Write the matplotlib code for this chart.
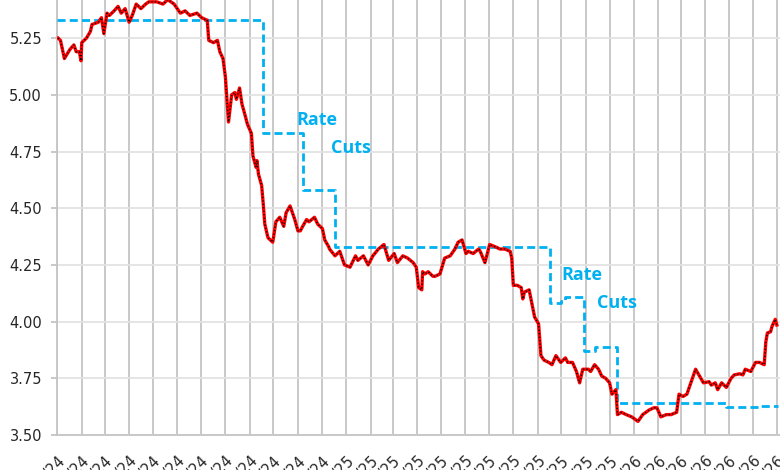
import matplotlib
matplotlib.use("Agg")
import matplotlib.pyplot as plt
import pandas as pd

# ---------------- data ----------------
yield_dates = [
    "2024-01-02", "2024-01-05", "2024-01-10", "2024-01-17", "2024-01-22", "2024-01-25", "2024-01-29",
    "2024-01-31", "2024-02-01", "2024-02-07", "2024-02-12", "2024-02-14", "2024-02-22", "2024-02-26",
    "2024-02-29", "2024-03-04", "2024-03-07", "2024-03-13", "2024-03-18", "2024-03-22", "2024-03-27",
    "2024-04-01", "2024-04-05", "2024-04-10", "2024-04-16", "2024-04-22", "2024-04-26", "2024-05-03",
    "2024-05-06", "2024-05-14", "2024-05-20", "2024-05-28", "2024-06-05", "2024-06-11", "2024-06-17",
    "2024-06-26", "2024-07-02", "2024-07-08", "2024-07-09", "2024-07-11", "2024-07-17", "2024-07-22",
    "2024-07-25", "2024-07-29", "2024-08-01", "2024-08-05", "2024-08-06", "2024-08-09", "2024-08-13",
    "2024-08-15", "2024-08-19", "2024-08-22", "2024-08-26", "2024-08-29", "2024-09-03", "2024-09-05",
    "2024-09-09", "2024-09-10", "2024-09-12", "2024-09-16", "2024-09-18", "2024-09-20", "2024-09-24",
    "2024-09-30", "2024-10-01", "2024-10-04", "2024-10-09", "2024-10-14", "2024-10-17", "2024-10-22",
    "2024-10-28", "2024-11-01", "2024-11-04", "2024-11-07", "2024-11-12", "2024-11-15", "2024-11-22",
    "2024-11-26", "2024-12-02", "2024-12-05", "2024-12-10", "2024-12-11", "2024-12-18", "2024-12-24",
    "2024-12-30", "2025-01-06", "2025-01-13", "2025-01-16", "2025-01-23", "2025-01-29", "2025-02-04",
    "2025-02-11", "2025-02-18", "2025-02-24", "2025-03-03", "2025-03-07", "2025-03-14", "2025-03-20",
    "2025-03-27", "2025-03-31", "2025-04-03", "2025-04-07", "2025-04-08", "2025-04-11", "2025-04-15",
    "2025-04-21", "2025-04-24", "2025-04-30", "2025-05-06", "2025-05-13", "2025-05-19", "2025-05-23",
    "2025-05-28", "2025-06-02", "2025-06-05", "2025-06-11", "2025-06-18", "2025-06-20", "2025-06-26",
    "2025-07-02", "2025-07-09", "2025-07-15", "2025-07-21", "2025-07-28", "2025-07-30", "2025-08-01",
    "2025-08-06", "2025-08-11", "2025-08-13", "2025-08-15", "2025-08-21", "2025-08-25", "2025-08-28",
    "2025-09-02", "2025-09-05", "2025-09-09", "2025-09-15", "2025-09-19", "2025-09-24", "2025-09-30",
    "2025-10-06", "2025-10-09", "2025-10-15", "2025-10-20", "2025-10-24", "2025-10-28", "2025-11-04",
    "2025-11-07", "2025-11-12", "2025-11-17", "2025-11-21", "2025-11-26", "2025-12-01", "2025-12-04",
    "2025-12-09", "2025-12-11", "2025-12-16", "2025-12-22", "2025-12-29", "2026-01-06", "2026-01-12",
    "2026-01-20", "2026-01-26", "2026-01-30", "2026-02-04", "2026-02-11", "2026-02-17", "2026-02-24",
    "2026-02-27", "2026-03-04", "2026-03-09", "2026-03-12", "2026-03-16", "2026-03-20", "2026-03-25",
    "2026-03-30", "2026-04-06", "2026-04-09", "2026-04-14", "2026-04-17", "2026-04-22", "2026-04-28",
    "2026-05-04", "2026-05-08", "2026-05-15", "2026-05-19", "2026-05-22", "2026-05-29", "2026-06-04",
    "2026-06-09", "2026-06-15", "2026-06-17", "2026-06-19", "2026-06-23", "2026-06-25", "2026-06-29",
    "2026-07-01",
]
yield_values = [
    5.25, 5.24, 5.16, 5.20, 5.22, 5.19, 5.19,
    5.15, 5.23, 5.25, 5.28, 5.31, 5.32, 5.34,
    5.27, 5.36, 5.35, 5.37, 5.39, 5.36, 5.38,
    5.32, 5.35, 5.40, 5.38, 5.40, 5.41, 5.41,
    5.41, 5.40, 5.42, 5.40, 5.36, 5.37, 5.35,
    5.36, 5.34, 5.33, 5.33, 5.24, 5.23, 5.24,
    5.19, 5.16, 5.08, 4.88, 4.91, 5.00, 5.01,
    4.98, 5.03, 4.96, 4.91, 4.87, 4.83, 4.73,
    4.68, 4.71, 4.65, 4.60, 4.52, 4.43, 4.37,
    4.35, 4.37, 4.44, 4.46, 4.42, 4.48, 4.51,
    4.45, 4.40, 4.40, 4.42, 4.45, 4.44, 4.46,
    4.43, 4.41, 4.36, 4.33, 4.32, 4.29, 4.31,
    4.25, 4.24, 4.29, 4.27, 4.29, 4.25, 4.29,
    4.32, 4.34, 4.27, 4.30, 4.26, 4.29, 4.28,
    4.26, 4.24, 4.15, 4.14, 4.22, 4.21, 4.22,
    4.20, 4.20, 4.21, 4.28, 4.29, 4.32, 4.35,
    4.36, 4.30, 4.31, 4.30, 4.32, 4.31, 4.26,
    4.34, 4.33, 4.32, 4.32, 4.31, 4.28, 4.16,
    4.16, 4.15, 4.10, 4.13, 4.14, 4.07, 4.02,
    3.99, 3.85, 3.83, 3.82, 3.81, 3.85, 3.82,
    3.84, 3.82, 3.82, 3.78, 3.73, 3.79, 3.79,
    3.78, 3.81, 3.79, 3.76, 3.75, 3.73, 3.68,
    3.70, 3.59, 3.60, 3.59, 3.58, 3.56, 3.59,
    3.61, 3.62, 3.62, 3.58, 3.59, 3.59, 3.60,
    3.68, 3.67, 3.68, 3.71, 3.75, 3.79, 3.76,
    3.73, 3.735, 3.72, 3.73, 3.70, 3.73, 3.71,
    3.75, 3.765, 3.77, 3.765, 3.79, 3.78, 3.82,
    3.82, 3.81, 3.91, 3.95, 3.955, 3.98, 4.01,
    3.985,
]

policy_dates = [
    "2024-01-01", "2024-09-18", "2024-11-07", "2024-12-18", "2025-09-17", "2025-10-01",
    "2025-10-06", "2025-10-29", "2025-11-12", "2025-12-10", "2026-04-28", "2026-06-10",
    "2026-07-02",
]
policy_values = [
    5.33, 4.83, 4.58, 4.33, 4.08, 4.09,
    4.11, 3.87, 3.89, 3.64, 3.625, 3.63,
    3.63,
]

ytick_values = [3.50, 3.75, 4.00, 4.25, 4.50, 4.75, 5.00, 5.25]
annotation_words = ["Rate", "Cuts"]

# ---------------- style ----------------
RED = "#FF0000"
BLUE = "#00B0F0"
VGRID = "#C4C4C4"
HGRID = "#E3E3E3"
TXT = "#262626"

fig = plt.figure(figsize=(7.8, 4.7), dpi=100)
ax = fig.add_axes([57.3 / 780, 35 / 470, 1 - 57.3 / 780, 1 - 35 / 470])

yd = pd.to_datetime(yield_dates)
pd_dates = pd.to_datetime(policy_dates)

ax.plot(pd_dates, policy_values, color=BLUE, lw=2.0, drawstyle="steps-post",
        dashes=(2.9, 1.5), zorder=3)
ax.plot(yd, yield_values, color=RED, lw=2.4, zorder=4, solid_joinstyle="round")
ax.plot(yd, yield_values, color="black", lw=1.0, linestyle=(0, (0.9, 1.6)), zorder=5)

x0 = pd.Timestamp("2024-01-01")
x1 = x0 + pd.Timedelta(days=916)
ax.set_xlim(x0, x1)
ax.set_ylim(3.50, 5.418)

ax.set_yticks(ytick_values)
ax.set_yticklabels([f"{v:.2f}" for v in ytick_values])

months = pd.date_range("2024-01-01", "2026-07-01", freq="MS")
ax.set_xticks(months)
ax.set_xticklabels([f"{d.month}/{d.day}/{d:%y}" for d in months], rotation=45,
                   ha="right", va="top", rotation_mode="anchor")

ax.grid(axis="x", color=VGRID, lw=1.3)
ax.grid(axis="y", color=HGRID, lw=1.3)
ax.set_axisbelow(True)

for s in ["top", "right"]:
    ax.spines[s].set_visible(False)
ax.spines["left"].set_color(VGRID)
ax.spines["left"].set_linewidth(1.3)
ax.spines["bottom"].set_color(VGRID)
ax.spines["bottom"].set_linewidth(1.3)

ax.tick_params(axis="y", length=4, width=1.3, color=VGRID, pad=7, labelsize=10.5, labelcolor=TXT)
ax.tick_params(axis="x", length=0, pad=13, labelsize=10.5, labelcolor=TXT)

tkw = dict(color=BLUE, fontsize=13, fontweight="bold", family="Open Sans", va="center", ha="left")
ax.text(pd.Timestamp("2024-10-30"), 4.889, annotation_words[0], **tkw)
ax.text(pd.Timestamp("2024-12-13"), 4.765, annotation_words[1], **tkw)
ax.text(pd.Timestamp("2025-10-01"), 4.205, annotation_words[0], **tkw)
ax.text(pd.Timestamp("2025-11-15"), 4.082, annotation_words[1], **tkw)

fig.savefig("out.png", dpi=100)
